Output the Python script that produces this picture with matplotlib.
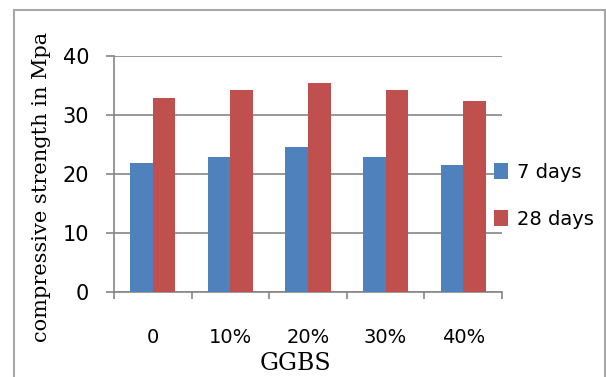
import numpy as np
import matplotlib
matplotlib.use("Agg")
import matplotlib.pyplot as plt
from matplotlib.patches import Rectangle

categories = ["0", "10%", "20%", "30%", "40%"]
days7 = [21.9, 22.9, 24.6, 22.9, 21.6]
days28 = [32.8, 34.2, 35.5, 34.2, 32.4]
series_names = ["7 days", "28 days"]

blue = "#4F81BD"
red = "#C0504D"
grey = "#868686"

fig = plt.figure(figsize=(6.06, 3.77), dpi=100)
ax = fig.add_axes([114/606, 1-292/377, (502-114)/606, (292-56)/377])

x = np.arange(len(categories)) + 0.5
w = 0.29
b1 = ax.bar(x - w/2, days7, w, color=blue, label=series_names[0], zorder=3)
b2 = ax.bar(x + w/2, days28, w, color=red, label=series_names[1], zorder=3)

ax.set_xlim(0, len(categories))
ax.set_ylim(0, 40)
ax.set_yticks([0, 10, 20, 30, 40])
ax.yaxis.grid(True, color=grey, lw=1.2, zorder=0)
ax.set_axisbelow(True)

ax.set_xticks(np.arange(len(categories) + 1))
ax.set_xticklabels([])
ax.set_xticks(x, minor=True)
ax.set_xticklabels(categories, minor=True, fontsize=14)
ax.tick_params(axis="x", which="minor", length=0, pad=26)
ax.tick_params(axis="x", which="major", length=5, color=grey, width=1.2, direction="out")
ax.tick_params(axis="y", length=6, color=grey, width=1.2, labelsize=15, pad=12)

for s in ["top", "right"]:
    ax.spines[s].set_visible(False)
for s in ["left", "bottom"]:
    ax.spines[s].set_color(grey)
    ax.spines[s].set_linewidth(1.2)

ax.set_xlabel("GGBS", family="DejaVu Serif", fontsize=17)
ax.xaxis.set_label_coords((295-114)/(502-114), -(363-292)/(292-56), transform=ax.transAxes)
ax.xaxis.label.set_va("center")
ax.set_ylabel("compressive strength in Mpa", family="DejaVu Serif", fontsize=15)
ax.yaxis.set_label_coords(-(114-41)/(502-114), (292-187)/(292-56), transform=ax.transAxes)
ax.yaxis.label.set_va("center")

fig.legend(handles=[b1, b2], loc="upper left", bbox_to_anchor=(484/606, 1-153/377),
           frameon=False, fontsize=14, borderpad=0, handlelength=0.75,
           handleheight=0.85, handletextpad=0.45, labelspacing=1.45)

fig.patches.append(Rectangle((14/606, -0.1), (605-14)/606, 1.1 - 10/377,
                             transform=fig.transFigure, fill=False,
                             edgecolor="#A6A6A6", lw=1.5))

fig.savefig("out.png", dpi=100)
